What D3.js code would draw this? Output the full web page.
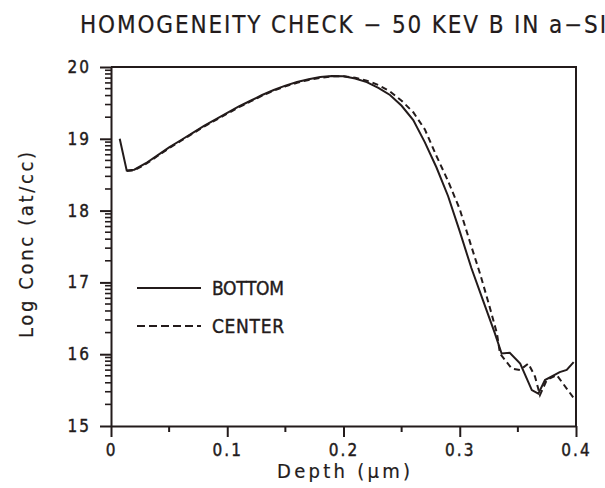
<!DOCTYPE html>
<html>
<head>
<meta charset="utf-8">
<script src="https://cdn.jsdelivr.net/npm/d3@7"></script>
<style>
  body { margin: 0; background: #fff; }
  svg text { font-family: "DejaVu Sans Condensed", "DejaVu Sans", sans-serif; fill: #231b1b; stroke: #231b1b; stroke-width: 0.4px; }
</style>
</head>
<body>
<div id="chart"></div>
<script>
// depth in um, log10 concentration in at/cc
let bottomDepth = [0.0075, 0.0135, 0.02, 0.03, 0.04, 0.05, 0.06, 0.07, 0.08, 0.09, 0.10, 0.11, 0.12, 0.13, 0.14, 0.15, 0.16, 0.17, 0.18, 0.19, 0.20, 0.21, 0.22, 0.23, 0.24, 0.25, 0.26, 0.27, 0.28, 0.29, 0.30, 0.31, 0.32, 0.33, 0.336, 0.343, 0.352, 0.362, 0.3676, 0.3733, 0.386, 0.392, 0.398];
let bottomConc  = [19.0, 18.56, 18.57, 18.66, 18.77, 18.88, 18.98, 19.08, 19.18, 19.27, 19.36, 19.45, 19.53, 19.61, 19.68, 19.74, 19.79, 19.83, 19.86, 19.875, 19.87, 19.84, 19.79, 19.71, 19.61, 19.46, 19.26, 18.95, 18.60, 18.20, 17.71, 17.20, 16.75, 16.30, 16.01, 16.02, 15.87, 15.50, 15.45, 15.64, 15.75, 15.78, 15.89];

let centerDepth = [0.0135, 0.02, 0.03, 0.04, 0.05, 0.06, 0.07, 0.08, 0.09, 0.10, 0.11, 0.12, 0.13, 0.14, 0.15, 0.16, 0.17, 0.18, 0.19, 0.20, 0.21, 0.22, 0.23, 0.24, 0.25, 0.26, 0.27, 0.28, 0.29, 0.30, 0.31, 0.3174, 0.325, 0.332, 0.3346, 0.3447, 0.3518, 0.359, 0.3647, 0.369, 0.3748, 0.3834, 0.398];
let centerConc  = [18.55, 18.56, 18.65, 18.76, 18.87, 18.97, 19.07, 19.17, 19.26, 19.35, 19.44, 19.52, 19.60, 19.67, 19.73, 19.78, 19.82, 19.85, 19.87, 19.87, 19.85, 19.81, 19.75, 19.66, 19.53, 19.37, 19.13, 18.76, 18.41, 18.02, 17.50, 17.125, 16.70, 16.29, 16.01, 15.80, 15.78, 15.87, 15.69, 15.43, 15.64, 15.71, 15.39];

let xTicks = [0, 0.1, 0.2, 0.3, 0.4];
let xTickLabels = ["0", "0.1", "0.2", "0.3", "0.4"];
let xMinor = [0.05, 0.15, 0.25, 0.35];
let yTicks = [15, 16, 17, 18, 19, 20];

let legendNames = ["BOTTOM", "CENTER"];
let titleText = "HOMOGENEITY CHECK \u2212 50 KEV B IN a\u2212SI";

let ink = "#231b1b";
let width = 605, height = 488;
let plot = {left: 111, right: 576, top: 67, bottom: 426};

let svg = d3.select("#chart").append("svg")
  .attr("width", width)
  .attr("height", height);

let x = d3.scaleLinear().domain([0, 0.4]).range([plot.left, plot.right]);
let y = d3.scaleLinear().domain([15, 20]).range([plot.bottom, plot.top]);

// log minor ticks inside each decade
let yMinor = [];
for (let d = 15; d < 20; d++) {
  for (let k = 2; k <= 9; k++) yMinor.push(d + Math.log10(k));
}

let xAxis = svg.append("g")
  .attr("transform", "translate(0," + plot.bottom + ")")
  .call(d3.axisBottom(x).tickValues(xTicks).tickSize(11).tickSizeOuter(0).tickPadding(5)
    .tickFormat((d, i) => xTickLabels[i]));

let yAxis = svg.append("g")
  .attr("transform", "translate(" + plot.left + ",0)")
  .call(d3.axisLeft(y).tickValues(yTicks).tickSize(11).tickSizeOuter(0).tickPadding(9)
    .tickFormat(d3.format("d")));

svg.selectAll(".domain").attr("stroke", ink).attr("stroke-width", 2);
svg.selectAll(".tick line").attr("stroke", ink).attr("stroke-width", 2);
svg.selectAll(".tick text")
  .style("font-size", "17px")
  .style("letter-spacing", "2px")
  .attr("fill", ink);
xAxis.selectAll(".tick text").attr("dy", "0.8em");

// minor ticks
svg.append("g").selectAll("line")
  .data(xMinor)
  .join("line")
  .attr("x1", d => x(d)).attr("x2", d => x(d))
  .attr("y1", plot.bottom).attr("y2", plot.bottom + 6)
  .attr("stroke", ink).attr("stroke-width", 2);

svg.append("g").selectAll("line")
  .data(yMinor)
  .join("line")
  .attr("x1", plot.left - 6).attr("x2", plot.left)
  .attr("y1", d => y(d)).attr("y2", d => y(d))
  .attr("stroke", ink).attr("stroke-width", 1.6);

// frame: top and right
svg.append("path")
  .attr("d", d3.line()([[plot.left, plot.top], [plot.right, plot.top], [plot.right, plot.bottom]]))
  .attr("fill", "none")
  .attr("stroke", ink)
  .attr("stroke-width", 2);

let line = d3.line()
  .x(d => x(d[0]))
  .y(d => y(d[1]));

svg.append("path")
  .datum(bottomDepth.map((d, i) => [d, bottomConc[i]]))
  .attr("d", line)
  .attr("fill", "none")
  .attr("stroke", ink)
  .attr("stroke-width", 2);

svg.append("path")
  .datum(centerDepth.map((d, i) => [d, centerConc[i]]))
  .attr("d", line)
  .attr("fill", "none")
  .attr("stroke", ink)
  .attr("stroke-width", 2)
  .attr("stroke-dasharray", "6,4");

// legend
let legend = svg.append("g");
legendNames.forEach(function(name, i) {
  let ly = 288 + i * 38;
  legend.append("line")
    .attr("x1", 137).attr("x2", 201)
    .attr("y1", ly).attr("y2", ly)
    .attr("stroke", ink)
    .attr("stroke-width", 2)
    .attr("stroke-dasharray", i == 0 ? null : "8,4");
  legend.append("text")
    .attr("x", 212)
    .attr("y", ly + 7)
    .attr("textLength", 72)
    .style("font-size", "19px")
    .text(name);
});

// title and axis labels
svg.append("text")
  .attr("x", 80)
  .attr("y", 33)
  .attr("textLength", 526)
  .style("font-size", "24px")
  .style("stroke-width", "0.2px")
  .text(titleText);

svg.append("text")
  .attr("x", 277)
  .attr("y", 478)
  .attr("textLength", 133)
  .style("font-size", "20px")
  .style("stroke-width", "0.2px")
  .text("Depth (\u03bcm)");

svg.append("text")
  .attr("transform", "translate(33,245) rotate(-90)")
  .attr("text-anchor", "middle")
  .attr("textLength", 186)
  .style("font-size", "20px")
  .style("stroke-width", "0.2px")
  .text("Log Conc (at/cc)");
</script>
</body>
</html>
